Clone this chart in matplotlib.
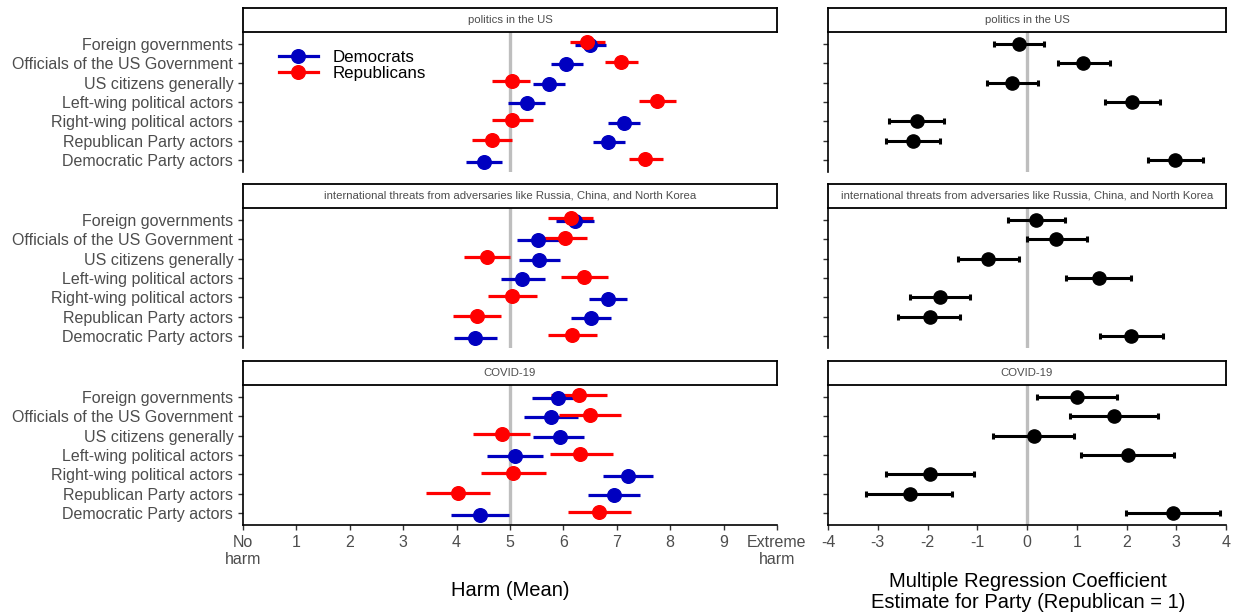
import matplotlib.pyplot as plt
from matplotlib.lines import Line2D

plt.rcParams['font.family'] = ['Liberation Sans', 'DejaVu Sans']
plt.rcParams['axes.unicode_minus'] = False

topics = ["politics in the US",
          "international threats from adversaries like Russia, China, and North Korea",
          "COVID-19"]
actors = ["Foreign governments", "Officials of the US Government", "US citizens generally",
          "Left-wing political actors", "Right-wing political actors",
          "Republican Party actors", "Democratic Party actors"]

# mean harm ratings with 95% CI, one row per topic
dem_mean = [[6.49, 6.05, 5.73, 5.31, 7.13, 6.84, 4.51],
            [6.22, 5.53, 5.54, 5.23, 6.84, 6.52, 4.35],
            [5.89, 5.77, 5.93, 5.09, 7.21, 6.95, 4.43]]
dem_lo = [[6.21, 5.76, 5.44, 4.96, 6.84, 6.55, 4.17],
          [5.87, 5.13, 5.17, 4.83, 6.48, 6.15, 3.95],
          [5.41, 5.27, 5.44, 4.56, 6.75, 6.46, 3.89]]
dem_hi = [[6.79, 6.36, 6.03, 5.65, 7.44, 7.16, 4.85],
          [6.57, 5.93, 5.93, 5.65, 7.20, 6.89, 4.76],
          [6.38, 6.28, 6.38, 5.62, 7.68, 7.44, 4.98]]
rep_mean = [[6.45, 7.08, 5.03, 7.76, 5.04, 4.66, 7.53],
            [6.14, 6.03, 4.56, 6.39, 5.04, 4.38, 6.16],
            [6.30, 6.49, 4.85, 6.32, 5.06, 4.02, 6.66]]
rep_lo = [[6.12, 6.77, 4.67, 7.42, 4.67, 4.29, 7.22],
          [5.71, 5.60, 4.13, 5.96, 4.59, 3.93, 5.72],
          [5.76, 5.91, 4.31, 5.75, 4.45, 3.42, 6.09]]
rep_hi = [[6.77, 7.40, 5.37, 8.11, 5.44, 5.04, 7.87],
          [6.56, 6.44, 5.00, 6.84, 5.51, 4.83, 6.62],
          [6.81, 7.08, 5.38, 6.92, 5.68, 4.63, 7.26]]

# regression coefficient for party (Republican = 1)
coef = [[-0.16, 1.13, -0.30, 2.12, -2.22, -2.29, 2.98],
        [0.18, 0.59, -0.78, 1.45, -1.75, -1.95, 2.09],
        [1.00, 1.74, 0.14, 2.03, -1.94, -2.36, 2.94]]
coef_lo = [[-0.66, 0.62, -0.81, 1.56, -2.78, -2.83, 2.44],
           [-0.39, -0.01, -1.38, 0.78, -2.36, -2.60, 1.46],
           [0.20, 0.87, -0.68, 1.08, -2.83, -3.24, 1.98]]
coef_hi = [[0.35, 1.66, 0.22, 2.67, -1.67, -1.74, 3.53],
           [0.76, 1.20, -0.16, 2.10, -1.15, -1.34, 2.73],
           [1.81, 2.64, 0.94, 2.95, -1.06, -1.50, 3.88]]

W, H = 1233, 615
BLUE = "#0000C0"
RED = "#FF0000"
GREY = "#4D4D4D"


def box(x0, x1, top, bottom):
    return [x0 / W, 1 - bottom / H, (x1 - x0) / W, (bottom - top) / H]


def strip(x0, x1, top, bottom, label):
    s = fig.add_axes(box(x0, x1, top, bottom))
    s.set_xticks([])
    s.set_yticks([])
    for sp in s.spines.values():
        sp.set_linewidth(1.3)
    s.text(0.5, 0.5, label, ha='center', va='center', fontsize=8.2, color=GREY,
           transform=s.transAxes)


def style(ax, bottom_axis):
    for sp in ['top', 'right']:
        ax.spines[sp].set_visible(False)
    ax.spines['left'].set_linewidth(1.2)
    ax.spines['bottom'].set_linewidth(1.2)
    ax.spines['bottom'].set_visible(bottom_axis)
    ax.tick_params(axis='both', length=3.5, width=1, color='#333333',
                   labelcolor=GREY, labelsize=11.5)
    ax.set_ylim(6.6, -0.6)
    ax.set_yticks(range(len(actors)))


fig = plt.figure(figsize=(W / 100, H / 100), dpi=100)

pos = list(range(len(actors)))
tops = [32, 208, 385]
for t in range(3):
    top = tops[t]
    bot = top + 140
    last = t == 2

    # left: mean harm by party
    ax = fig.add_axes(box(243, 777, top, bot))
    strip(243, 777, top - 24, top, topics[t])
    ax.axvline(5, color='#BEBEBE', lw=2.4, zorder=0)
    for mean, lo, hi, col, off in [(dem_mean, dem_lo, dem_hi, BLUE, 0.07),
                                   (rep_mean, rep_lo, rep_hi, RED, -0.07)]:
        y = [p + off for p in pos]
        ax.hlines(y, lo[t], hi[t], color=col, lw=2.3, zorder=2)
        ax.plot(mean[t], y, 'o', color=col, ms=9.8, zorder=3, lw=0)
    style(ax, last)
    ax.set_xlim(0, 10)
    ax.set_yticklabels(actors)
    ax.set_xticks(range(11))
    if last:
        ax.set_xticklabels(["No\nharm"] + [str(i) for i in range(1, 10)] + ["Extreme\nharm"])
    else:
        ax.tick_params(axis='x', bottom=False, labelbottom=False)
    if t == 0:
        handles = [Line2D([], [], color=BLUE, lw=2.3, marker='o', ms=9.8),
                   Line2D([], [], color=RED, lw=2.3, marker='o', ms=9.8)]
        ax.legend(handles, ["Democrats", "Republicans"], loc='upper left',
                  bbox_to_anchor=(0.051, 0.935), frameon=False, fontsize=12.2,
                  handlelength=2.3, labelspacing=0.1, handletextpad=0.9,
                  borderpad=0)

    # right: regression coefficient
    ax2 = fig.add_axes(box(828, 1226, top, bot))
    strip(828, 1226, top - 24, top, topics[t])
    ax2.axvline(0, color='#BEBEBE', lw=2.4, zorder=0)
    ax2.errorbar(coef[t], pos, xerr=[[c - l for c, l in zip(coef[t], coef_lo[t])],
                                     [h - c for c, h in zip(coef[t], coef_hi[t])]],
                 fmt='o', color='black', ms=9.5, elinewidth=2.2, capsize=2.2,
                 capthick=2.2, zorder=3)
    style(ax2, last)
    ax2.set_xlim(-4, 4)
    ax2.set_yticklabels([])
    ax2.set_xticks(range(-4, 5))
    if not last:
        ax2.tick_params(axis='x', bottom=False, labelbottom=False)

fig.text(510 / W, 1 - 591 / H, "Harm (Mean)", ha='center', va='center', fontsize=14.5)
fig.text(1028 / W, 1 - 592 / H, "Multiple Regression Coefficient\nEstimate for Party (Republican = 1)",
         ha='center', va='center', fontsize=14.5, linespacing=1.15)

fig.savefig("out.png", dpi=100)
